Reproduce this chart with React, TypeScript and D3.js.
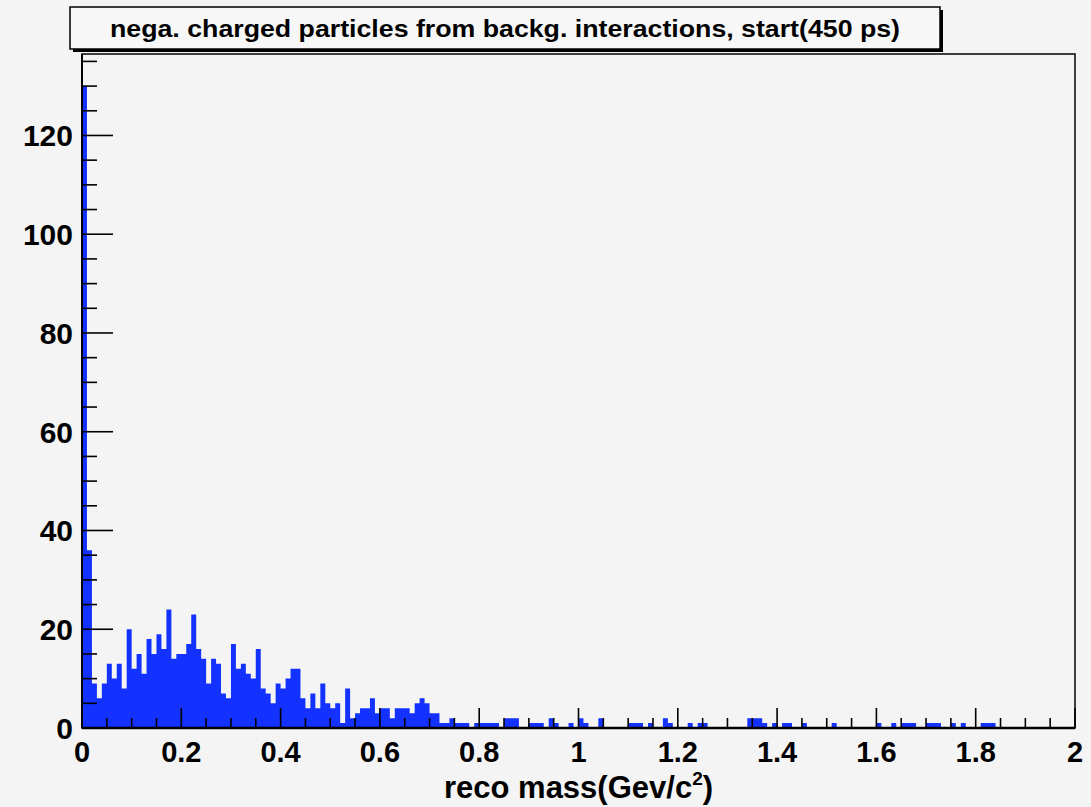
import React from "react";
import * as d3 from "d3";

const titleText = "nega. charged particles from backg. interactions, start(450 ps)";
const xTitleMain = "reco mass(Gev/c";
const xTitleSup = "2";
const xTickLabels = ["0", "0.2", "0.4", "0.6", "0.8", "1", "1.2", "1.4", "1.6", "1.8", "2"];
const yTickLabels = ["0", "20", "40", "60", "80", "100", "120"];

const xMin = 0;
const xMax = 2;
const binWidth = 0.01;

// counts per 0.01 bin, 0.00 -> 0.74
const countsLow = [
  130, 36, 9, 6, 9, 13, 10, 13, 8, 20,
  12, 15, 11, 18, 15, 19, 16, 24, 14, 15,
  15, 17, 23, 16, 14, 9, 14, 13, 7, 6,
  17, 12, 13, 11, 10, 16, 8, 7, 5, 9,
  8, 10, 12, 12, 6, 4, 7, 4, 9, 5,
  4, 5, 1, 8, 2, 3, 4, 4, 6, 3,
  4, 4, 2, 4, 4, 4, 3, 5, 6, 5,
  3, 3, 1, 1,
];
// counts per 0.01 bin, 0.74 -> 2.00
const countsHigh = [
  2, 1, 1, 1, 0, 1, 1, 1, 1, 1,
  0, 2, 2, 2, 0, 0, 1, 1, 1, 0,
  2, 1, 0, 0, 1, 0, 2, 1, 0, 0,
  2, 0, 0, 0, 0, 0, 1, 1, 1, 0,
  1, 0, 0, 2, 1, 0, 0, 0, 1, 0,
  1, 1, 0, 0, 0, 0, 0, 0, 0, 0,
  2, 2, 2, 1, 0, 1, 0, 1, 1, 0,
  0, 1, 0, 0, 0, 0, 0, 1, 0, 0,
  0, 0, 0, 0, 0, 0, 1, 0, 0, 1,
  0, 1, 1, 1, 0, 0, 1, 1, 1, 0,
  0, 1, 0, 1, 0, 0, 0, 1, 1, 1,
  0, 0, 0, 0, 0, 0, 0, 0, 0, 0,
  0, 0, 0, 0, 0, 0,
];
const counts = [...countsLow, ...countsHigh];

const W = 1091;
const H = 807;
const plot = { left: 82, right: 1075, top: 54, bottom: 728 };
const BG = "#f4f4f4";
const BAR = "#1432ff";
const FONT = "'Liberation Sans', Arial, Helvetica, sans-serif";

export default function App() {
  const yMax = d3.max(counts)! * 1.05;
  const x = d3.scaleLinear().domain([xMin, xMax]).range([plot.left, plot.right]);
  const y = d3.scaleLinear().domain([0, yMax]).range([plot.bottom, plot.top]);

  const xMajor = xTickLabels.map((t) => +t);
  const xMinor = d3.range(0, 41).map((i) => i * 0.05).filter((v) => Math.abs(v / 0.2 - Math.round(v / 0.2)) > 1e-6);
  const yMajor = yTickLabels.map((t) => +t);
  const yMinor = d3.range(0, Math.floor(yMax / 5) + 1).map((i) => i * 5).filter((v) => v % 20 !== 0);

  const steps = counts.map((c, i) => ({ e: xMin + i * binWidth, c }));
  steps.push({ e: xMin + counts.length * binWidth, c: counts[counts.length - 1] });
  const area = d3
    .area<{ e: number; c: number }>()
    .x((d) => x(d.e))
    .y0(y(0))
    .y1((d) => y(d.c))
    .curve(d3.curveStepAfter);

  return (
    <div style={{ position: "absolute", left: 0, top: 0 }}>
      <svg width={W} height={H} style={{ display: "block", background: BG }} fontFamily={FONT}>
        <rect x={0} y={0} width={W} height={H} fill={BG} />
        {/* histogram */}
        <path d={area(steps) || ""} fill={BAR} stroke="none" />
        {/* frame */}
        <rect
          x={plot.left}
          y={plot.top}
          width={plot.right - plot.left}
          height={plot.bottom - plot.top}
          fill="none"
          stroke="#111"
          strokeWidth={1.6}
        />
        <line x1={plot.left} x2={plot.left} y1={plot.top} y2={plot.bottom} stroke="#000" strokeWidth={2} />
        <line x1={plot.left} x2={plot.right} y1={plot.bottom} y2={plot.bottom} stroke="#000" strokeWidth={2.4} />
        {/* x ticks */}
        {xMajor.map((v, i) => (
          <line key={"xM" + i} x1={x(v)} x2={x(v)} y1={plot.bottom} y2={plot.bottom - 20} stroke="#000" strokeWidth={1.6} />
        ))}
        {xMinor.map((v, i) => (
          <line key={"xm" + i} x1={x(v)} x2={x(v)} y1={plot.bottom} y2={plot.bottom - 10} stroke="#000" strokeWidth={1.6} />
        ))}
        {/* y ticks */}
        {yMajor.map((v, i) => (
          <line key={"yM" + i} x1={plot.left} x2={plot.left + 31} y1={y(v)} y2={y(v)} stroke="#000" strokeWidth={1.6} />
        ))}
        {yMinor.map((v, i) => (
          <line key={"ym" + i} x1={plot.left} x2={plot.left + 15} y1={y(v)} y2={y(v)} stroke="#000" strokeWidth={1.6} />
        ))}
        {/* y labels */}
        {yTickLabels.map((t, i) => (
          <text
            key={"yl" + i}
            x={73}
            y={y(+t) + 11}
            textAnchor="end"
            fontSize={30}
            fontWeight="bold"
            fill="#000"
          >
            {t}
          </text>
        ))}
        {/* x labels */}
        {xTickLabels.map((t, i) => (
          <text
            key={"xl" + i}
            x={x(+t)}
            y={762}
            textAnchor="middle"
            fontSize={29}
            fontWeight="bold"
            fill="#000"
          >
            {t}
          </text>
        ))}
        {/* x title */}
        <text x={(plot.left + plot.right) / 2} y={798} textAnchor="middle" fontSize={31} fontWeight="bold" fill="#000">
          {xTitleMain}
          <tspan fontSize={19} dy={-13}>{xTitleSup}</tspan>
          <tspan dy={13}>)</tspan>
        </text>
        {/* title box */}
        <rect x={73} y={10} width={870} height={42} fill="#000" />
        <rect x={70} y={7} width={870} height={42} fill="#f7f7f7" stroke="#000" strokeWidth={1.5} />
        <text
          x={505}
          y={37}
          textAnchor="middle"
          fontSize={23}
          fontWeight="bold"
          fill="#000"
          textLength={790}
          lengthAdjust="spacingAndGlyphs"
        >
          {titleText}
        </text>
      </svg>
    </div>
  );
}
